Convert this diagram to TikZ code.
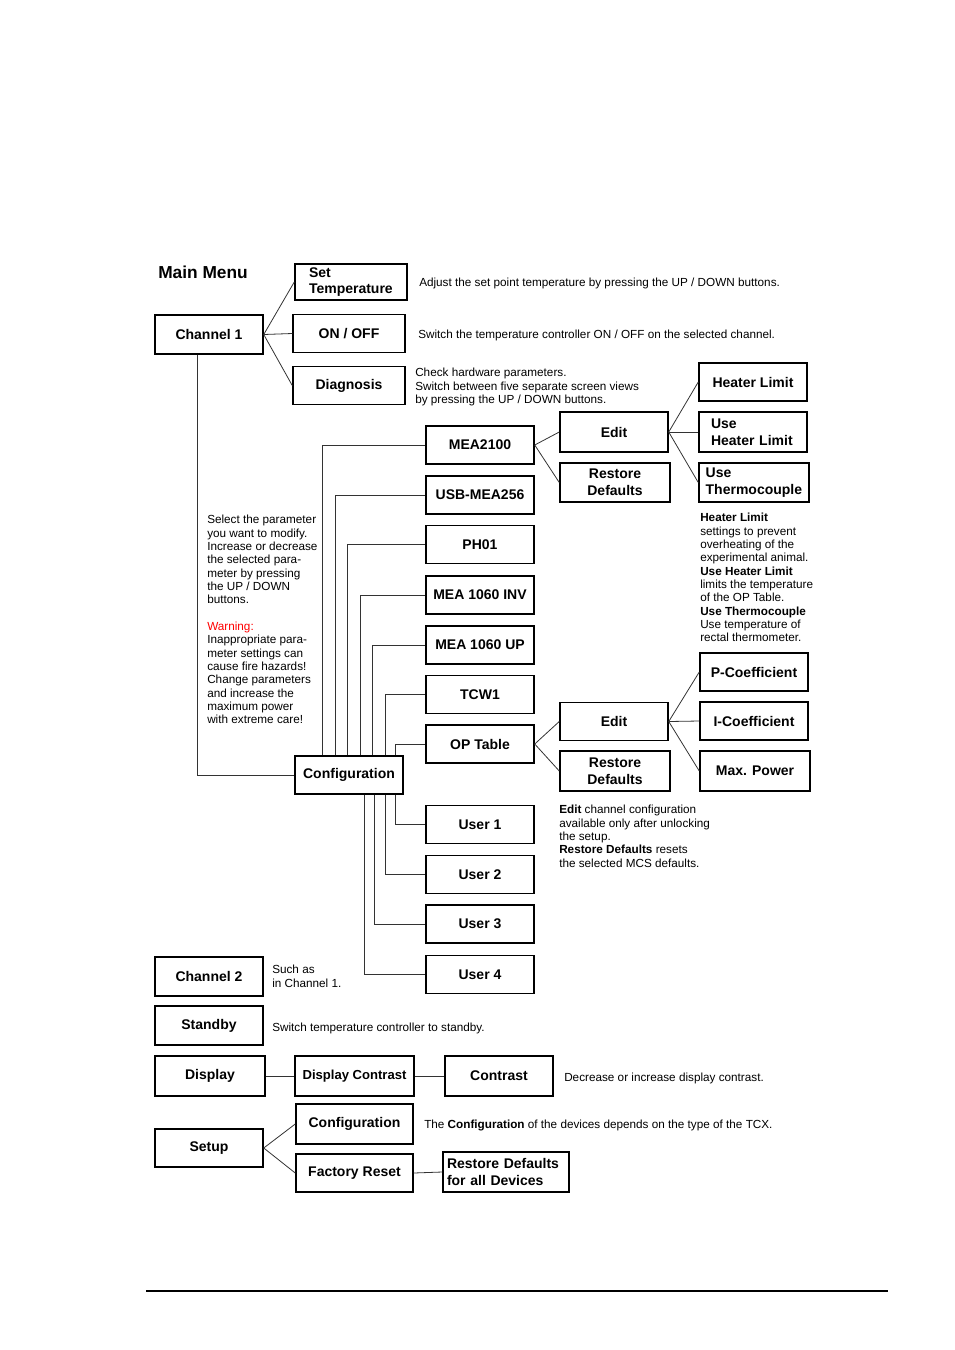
\documentclass[tikz,border=0pt]{standalone}
\usepackage{fontspec}
\setmainfont{Liberation Sans}
\usepackage{xcolor}
\usepackage{tikz}
\colorlet{link color}{black!80}
\colorlet{box edge}{black}
\tikzset{box/.style={draw=box edge, line width=1.1pt, minimum width=81pt, minimum height=28.5pt,
        inner sep=2pt, align=center, font=\bfseries\fontsize{10.5}{12.5}\selectfont},
    lbox/.style 2 args={box, align=left, text width=#1, inner xsep=#2},
    link/.style={draw=link color, line width=0.6pt},
    note/.style={anchor=north west, inner sep=0pt, align=left, font=\fontsize{8.8}{10}\selectfont}}

\begin{document}
\begin{tikzpicture}[x=0.75pt, y=-0.75pt]
    \useasboundingbox (0,0) rectangle (954,1350);
    \node[anchor=west, inner sep=0pt, font=\bfseries\fontsize{13}{15}\selectfont] (title) at (158,272) {Main Menu};
    % channel 1
    \node[box, minimum height=29.25pt] (ch1) at (209,334.5) {Channel 1};
    \node[lbox={63pt}{10.5pt}, minimum height=27pt] (settemp) at (351,282) {Set\\Temperature};
    \node[box, minimum width=84pt] (onoff) at (349,333.5) {ON / OFF};
    \node[box, minimum width=84pt] (diag) at (349,385.5) {Diagnosis};
    \node[note, anchor=west] (adjust) at (419,283) {Adjust the set point temperature by pressing the UP / DOWN buttons.};
    \node[note, anchor=west] (switch) at (418,335) {Switch the temperature controller ON / OFF on the selected channel.};
    \node[note] (check) at (415,368) {Check hardware parameters.\\Switch between five separate screen views\\by pressing the UP / DOWN buttons.};
    \foreach \n in {settemp,onoff,diag}
        \draw[link] (ch1.east) -- (\n.west);

    % configuration
    \node[box] (config) at (349,775) {Configuration};
    \node[box] (mea2100) at (480,445) {MEA2100};
    \node[box] (usbmea) at (480,495) {USB-MEA256};
    \node[box] (ph01) at (480,544.5) {PH01};
    \node[box] (inv) at (480,595) {MEA 1060 INV};
    \node[box] (up) at (480,645) {MEA 1060 UP};
    \node[box] (tcw) at (480,694.5) {TCW1};
    \node[box] (optable) at (480,744) {OP Table};
    \node[box] (user1) at (480,824.5) {User 1};
    \node[box] (user2) at (480,874.5) {User 2};
    \node[box] (user3) at (480,924) {User 3};
    \node[box] (user4) at (480,974.5) {User 4};
    \draw[link] (ch1.south) ++(-12,0) |- (config.west);
    \foreach \n/\dx in {mea2100/28, usbmea/41, ph01/53, inv/66, up/78, tcw/91, optable/101}
        \draw[link] (config.north west) ++(\dx,0) |- (\n.west);
    \foreach \n/\dx in {user1/101, user2/91, user3/80, user4/70}
        \draw[link] (config.south west) ++(\dx,0) |- (\n.west);

    % MEA2100 settings
    \node[box, minimum height=30pt] (edita) at (614,432) {Edit};
    \node[box, minimum width=82.5pt, minimum height=29.25pt] (resta) at (615,482.5) {Restore\\Defaults};
    \node[box] (heatlim) at (753,382) {Heater Limit};
    \node[lbox={63pt}{9pt}, minimum height=30pt] (useheat) at (753,432) {Use\\Heater Limit};
    \node[lbox={72.5pt}{5pt}, minimum height=29.25pt] (usethermo) at (754,482.5) {Use\\Thermocouple};
    \draw[link] (mea2100.east) -- (edita.west);
    \draw[link] (mea2100.east) -- (resta.west);
    \foreach \n in {heatlim,useheat,usethermo}
        \draw[link] (edita.east) -- (\n.west);
    \node[note] (heatnote) at (700,513) {\textbf{Heater Limit}\\settings to prevent\\overheating of the\\experimental animal.\\\textbf{Use Heater Limit}\\limits the temperature\\of the OP Table.\\\textbf{Use Thermocouple}\\Use temperature of\\rectal thermometer.};

    % OP Table settings
    \node[box] (editb) at (614,721.5) {Edit};
    \node[box, minimum width=82.5pt, minimum height=30pt] (restb) at (615,771) {Restore\\Defaults};
    \node[box] (pcoef) at (754,672) {P-Coefficient};
    \node[box] (icoef) at (754,721) {I-Coefficient};
    \node[box, minimum width=82.5pt, minimum height=30pt] (maxpow) at (755,771) {Max. Power};
    \draw[link] (optable.east) -- (editb.west);
    \draw[link] (optable.east) -- (restb.west);
    \foreach \n in {pcoef,icoef,maxpow}
        \draw[link] (editb.east) -- (\n.west);
    \node[note] (editnote) at (559,805) {\textbf{Edit} channel configuration\\available only after unlocking\\the setup.\\\textbf{Restore Defaults} resets\\the selected MCS defaults.};

    \node[note] (selnote) at (207,515) {Select the parameter\\you want to modify.\\Increase or decrease\\the selected para-\\meter by pressing\\the UP / DOWN\\buttons.\\[10pt]\textcolor{red}{Warning:}\\Inappropriate para-\\meter settings can\\cause fire hazards!\\Change parameters\\and increase the\\maximum power\\with extreme care!};

    % other menus
    \node[box, minimum height=29.25pt] (ch2) at (209,976.5) {Channel 2};
    \node[note] (ch2note) at (272,965) {Such as\\in Channel 1.};
    \node[box, minimum height=29.25pt] (standby) at (209,1025.5) {Standby};
    \node[note, anchor=west] (standnote) at (272,1028) {Switch temperature controller to standby.};
    \node[box, minimum width=82.5pt, minimum height=30pt] (display) at (210,1076) {Display};
    \node[box, minimum width=89.25pt, minimum height=30pt, inner xsep=0pt,
          font=\bfseries\fontsize{9.8}{12}\selectfont] (dispcon) at (354.5,1076) {Display Contrast};
    \node[box, minimum height=30pt] (contrast) at (499,1076) {Contrast};
    \node[note, anchor=west] (connote) at (564,1078) {Decrease or increase display contrast.};
    \draw[link] (display.east) -- (dispcon.west);
    \draw[link] (dispcon.east) -- (contrast.west);

    \node[box] (setup) at (209,1148) {Setup};
    \node[box, minimum width=87.75pt, minimum height=30pt] (setconf) at (354.5,1124) {Configuration};
    \node[box, minimum width=87.75pt] (factory) at (354.5,1173) {Factory Reset};
    \node[lbox={88.5pt}{3pt}, minimum height=30pt] (restall) at (506,1172) {Restore Defaults\\for all Devices};
    \node[note, anchor=west] (confnote) at (424,1125) {The \textbf{Configuration} of the devices depends on the type of the TCX.};
    \draw[link] (setup.east) -- (setconf.west);
    \draw[link] (setup.east) -- (factory.west);
    \draw[link] (factory.east) -- (restall.west);

    \draw[line width=1.1pt] (146,1291) -- (888,1291);
\end{tikzpicture}
\end{document}
